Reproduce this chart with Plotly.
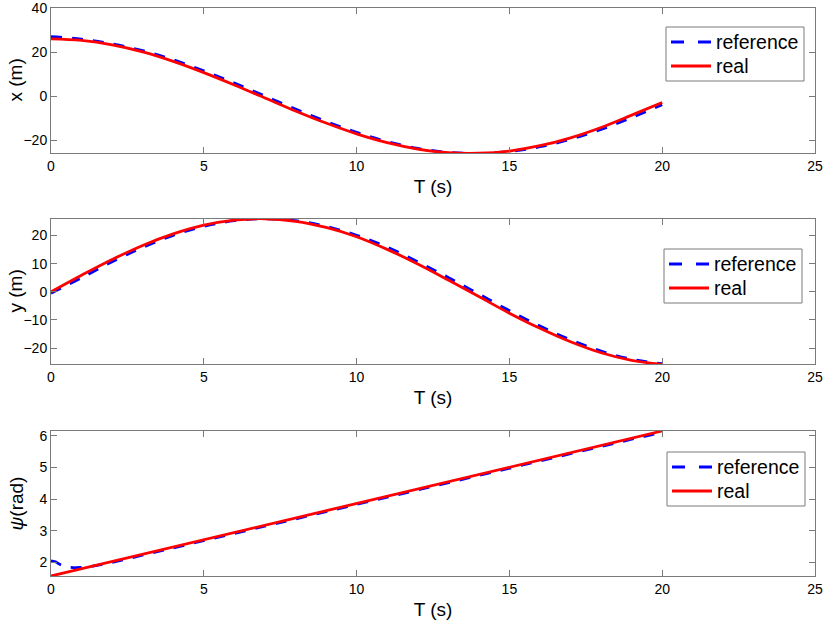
import plotly.graph_objects as go
from plotly.subplots import make_subplots

# ---- data ----
t = [0, 1, 2, 3, 4, 5, 6, 7, 8, 9, 10, 11, 12, 13, 14, 15, 16, 17, 18, 19, 20]

x_ref = [27.0, 25.9, 23.7, 20.65, 16.5, 11.5, 5.95, 0.05, -5.86, -11.45, -16.45,
         -20.6, -23.7, -25.5, -26.0, -25.1, -22.95, -19.55, -15.1, -9.7, -3.9]
x_real = [26.0, 25.3, 23.3, 20.1, 15.8, 10.7, 5.1, -0.8, -6.7, -12.2, -17.1,
          -21.1, -24.0, -25.65, -25.9, -24.9, -22.5, -18.9, -14.2, -8.6, -2.9]

y_ref = [-0.5, 5.0, 10.7, 15.8, 20.1, 23.3, 25.3, 26.0, 25.3, 23.3, 20.1,
         15.9, 10.7, 5.1, -0.8, -6.7, -12.2, -17.1, -21.1, -24.0, -25.6]
y_real = [0.0, 5.9, 11.5, 16.5, 20.6, 23.7, 25.5, 26.0, 25.1, 22.9, 19.6,
          15.1, 9.9, 4.2, -1.7, -7.6, -13.0, -17.8, -21.7, -24.4, -25.8]

t_psi = [0, 0.15, 0.3, 0.5, 0.8, 1.2, 2, 3, 4, 5, 6, 7, 8, 9, 10, 11, 12, 13,
         14, 15, 16, 17, 18, 19, 20]
psi_ref = [2.05, 2.02, 1.93, 1.86, 1.83, 1.85, 2.00, 2.23, 2.46, 2.69, 2.92,
           3.14, 3.37, 3.60, 3.83, 4.06, 4.29, 4.52, 4.75, 4.98, 5.21, 5.43,
           5.66, 5.89, 6.11]
t_psi_real = [0, 20]
psi_real = [1.571, 6.15]

x_ticks = [0, 5, 10, 15, 20, 25]
panel1_yticks = [-20, 0, 20, 40]
panel2_yticks = [-20, -10, 0, 10, 20]
panel3_yticks = [2, 3, 4, 5, 6]
legend_labels = ["reference", "real"]

BLUE = "#0000ff"
RED = "#ff0000"
AXC = "#7a7a7a"
FONT = "Liberation Sans, Arial, Helvetica, sans-serif"
DASH = "11px,10px"

W, H = 829, 626
ML, MR, MT, MB = 51, 14, 8, 50
PW, PH = W - ML - MR, H - MT - MB


def px_x(px):
    return (px - ML) / PW


def px_y(py):
    return (H - MB - py) / PH


fig = make_subplots(rows=3, cols=1)

series = [
    (t, x_ref, t, x_real),
    (t, y_ref, t, y_real),
    (t_psi, psi_ref, t_psi_real, psi_real),
]
for i, (tr, vr, tl, vl) in enumerate(series, start=1):
    shape = "spline" if i < 3 else "linear"
    fig.add_trace(go.Scatter(x=tr, y=vr, mode="lines", name=legend_labels[0],
                             line=dict(color=BLUE, width=2.8, dash=DASH, shape=shape),
                             showlegend=False), row=i, col=1)
    fig.add_trace(go.Scatter(x=tl, y=vl, mode="lines", name=legend_labels[1],
                             line=dict(color=RED, width=2.8, shape=shape),
                             showlegend=False), row=i, col=1)

domains = [[0.7447, 1.0], [0.3732, 0.6285], [0.0, 0.2553]]
yranges = [[-25.8, 40.02], [-25.7, 25.9], [1.57, 6.15]]
yticks = [panel1_yticks, panel2_yticks, panel3_yticks]
ytitles = ["x (m)", "y (m)", "<i>ψ</i>(rad)"]

common = dict(showline=True, linecolor=AXC, linewidth=1, mirror="ticks",
              ticks="inside", ticklen=6, tickcolor=AXC, showgrid=False,
              zeroline=False, automargin=False, ticklabeloverflow="allow",
              tickfont=dict(size=14, color="black", family=FONT))

annotations = []
for i in range(3):
    xa = "xaxis" if i == 0 else f"xaxis{i+1}"
    ya = "yaxis" if i == 0 else f"yaxis{i+1}"
    fig.layout[xa].update(range=[0, 25], tickvals=x_ticks,
                          title=dict(text="T (s)", font=dict(size=19, color="black", family=FONT), standoff=6),
                          **common)
    fig.layout[ya].update(domain=domains[i], range=yranges[i], tickvals=yticks[i],
                          **common)
    # y-axis title placed beside the axis (rotated)
    annotations.append(dict(xref="paper", yref="paper", x=px_x(16), y=sum(domains[i]) / 2,
                            text=ytitles[i], showarrow=False, textangle=-90,
                            xanchor="center", yanchor="middle",
                            font=dict(size=19, color="black", family=FONT)))

# legend boxes (left, top in pixels of the page), one per panel
legend_boxes = [(666, 27), (664, 249), (667, 452)]
shapes = []
for (lx, ty) in legend_boxes:
    shapes.append(dict(type="rect", xref="paper", yref="paper",
                       x0=px_x(lx), x1=px_x(lx + 138), y0=px_y(ty + 54), y1=px_y(ty),
                       line=dict(color=AXC, width=1), fillcolor="white", layer="above"))
    for k, (lab, col, dash) in enumerate([(legend_labels[0], BLUE, "13px,14px"),
                                           (legend_labels[1], RED, "solid")]):
        yy = ty + 15 + 24 * k
        shapes.append(dict(type="line", xref="paper", yref="paper",
                           x0=px_x(lx + 5), x1=px_x(lx + 45), y0=px_y(yy), y1=px_y(yy),
                           line=dict(color=col, width=2.8, dash=dash), layer="above"))
        annotations.append(dict(xref="paper", yref="paper", x=px_x(lx + 48), y=px_y(yy),
                                text=lab, showarrow=False, xanchor="left", yanchor="middle",
                                font=dict(size=19.5, color="black", family=FONT)))

fig.update_layout(
    width=W, height=H,
    margin=dict(l=ML, r=MR, t=MT, b=MB),
    paper_bgcolor="white", plot_bgcolor="white",
    font=dict(family=FONT, color="black"),
    showlegend=False,
    shapes=shapes,
    annotations=annotations,
)

fig.write_html("out.html", config={"displayModeBar": False},
               post_script="document.body.style.margin='0';document.body.style.padding='0';")
